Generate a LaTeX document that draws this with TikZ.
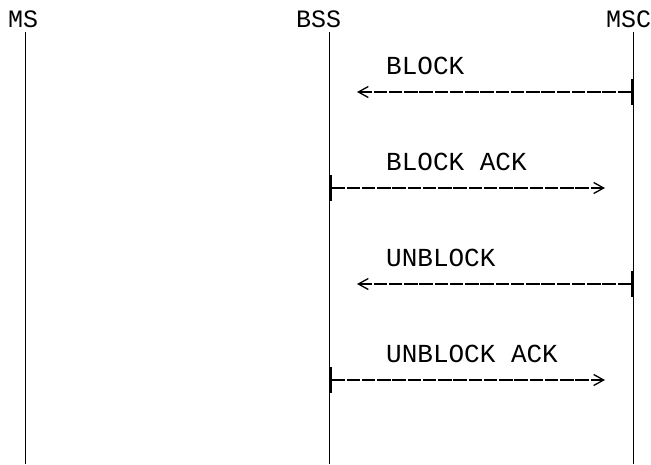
\documentclass[tikz,border=0pt]{standalone}
\usepackage{fontspec}
\setmonofont{Liberation Mono}
\usetikzlibrary{positioning, arrows.meta}

\begin{document}
\begin{tikzpicture}[
    x=1pt, y=1pt,
    head_text/.style={font=\ttfamily\fontsize{25}{25}\selectfont, inner sep=0pt, anchor=base west},
    msg_text/.style={font=\ttfamily\fontsize{26}{26}\selectfont, inner sep=0pt, anchor=base west},
    life_line/.style={draw=black, line width=1pt},
    msg_line/.style={draw=black, line width=1.6pt, dash pattern=on 13.5pt off 1.75pt,
        {Bar[width=26pt, line width=1.9pt]}-{Straight Barb[length=10pt, width=11pt, line width=1.3pt]}}
]

\useasboundingbox (0,0) rectangle (651,-464);

% Entity names
\node[head_text] (ms) at (8,-27) {MS};
\node[head_text] (bss) at (296,-27) {BSS};
\node[head_text] (msc) at (606,-27) {MSC};

% Lifeline ends
\coordinate (ms_top) at (25.5,-32);
\coordinate (ms_bot) at (25.5,-464);
\coordinate (bss_top) at (329.5,-32);
\coordinate (bss_bot) at (329.5,-464);
\coordinate (msc_top) at (633.5,-32);
\coordinate (msc_bot) at (633.5,-464);

% Draw lifelines
\draw[life_line] (ms_top) -- (ms_bot);
\draw[life_line] (bss_top) -- (bss_bot);
\draw[life_line] (msc_top) -- (msc_bot);

% Message end points
\coordinate (msc_m1) at (632.5,-92);
\coordinate (bss_m1) at (357,-92);
\coordinate (bss_m2) at (330,-188);
\coordinate (msc_m2) at (605,-188);
\coordinate (msc_m3) at (632.5,-284);
\coordinate (bss_m3) at (357,-284);
\coordinate (bss_m4) at (330,-380);
\coordinate (msc_m4) at (605,-380);

% Message labels
\node[msg_text] (block) at (386,-74) {BLOCK};
\node[msg_text] (block_ack) at (386,-170) {BLOCK ACK};
\node[msg_text] (unblock) at (386,-266) {UNBLOCK};
\node[msg_text] (unblock_ack) at (386,-362) {UNBLOCK ACK};

% Draw messages
\draw[msg_line] (msc_m1) -- (bss_m1);
\draw[msg_line] (bss_m2) -- (msc_m2);
\draw[msg_line] (msc_m3) -- (bss_m3);
\draw[msg_line] (bss_m4) -- (msc_m4);

\end{tikzpicture}
\end{document}
